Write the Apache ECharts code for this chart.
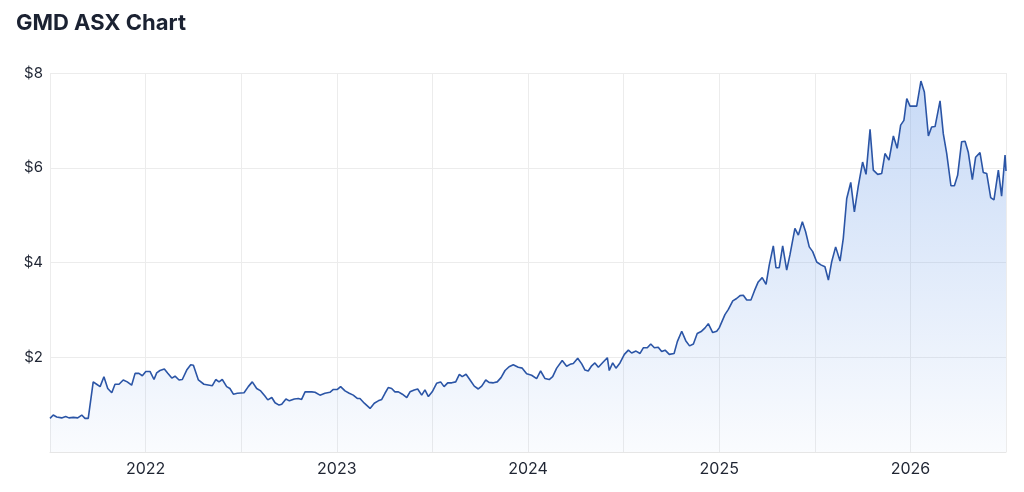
<!DOCTYPE html>
<html>
<head>
<meta charset="utf-8">
<script src="https://cdn.jsdelivr.net/npm/echarts@6/dist/echarts.min.js"></script>
<style>
html,body{margin:0;padding:0;background:#fff;}
#chart{width:1024px;height:492px;}
</style>
</head>
<body>
<div id="chart"></div>
<script>
// Decimal-year time of each weekly close
const times = [
2021.500,2021.517,2021.535,2021.561,2021.582,2021.599,2021.622,2021.645,2021.666,2021.683,
2021.700,2021.726,2021.744,2021.762,2021.782,2021.802,2021.823,2021.840,2021.861,2021.883,
2021.904,2021.927,2021.945,2021.965,2021.983,2022.001,2022.023,2022.044,2022.058,2022.075,
2022.098,2022.116,2022.137,2022.154,2022.175,2022.192,2022.215,2022.236,2022.250,2022.276,
2022.305,2022.349,2022.367,2022.384,2022.401,2022.424,2022.441,2022.459,2022.480,2022.515,
2022.537,2022.558,2022.581,2022.602,2022.624,2022.639,2022.660,2022.677,2022.698,2022.712,
2022.734,2022.752,2022.778,2022.799,2022.816,2022.834,2022.869,2022.886,2022.912,2022.938,
2022.964,2022.982,2023.003,2023.020,2023.043,2023.065,2023.086,2023.107,2023.121,2023.144,
2023.174,2023.196,2023.217,2023.235,2023.252,2023.269,2023.287,2023.304,2023.322,2023.343,
2023.366,2023.383,2023.405,2023.423,2023.444,2023.461,2023.479,2023.499,2023.522,2023.543,
2023.561,2023.580,2023.601,2023.622,2023.641,2023.656,2023.676,2023.697,2023.719,2023.740,
2023.758,2023.779,2023.796,2023.819,2023.839,2023.859,2023.880,2023.901,2023.923,2023.949,
2023.970,2023.993,2024.019,2024.045,2024.066,2024.089,2024.111,2024.129,2024.150,2024.179,
2024.202,2024.220,2024.237,2024.260,2024.281,2024.298,2024.315,2024.333,2024.350,2024.368,
2024.391,2024.415,2024.425,2024.443,2024.460,2024.481,2024.504,2024.525,2024.542,2024.565,
2024.586,2024.603,2024.624,2024.642,2024.661,2024.681,2024.699,2024.717,2024.739,2024.764,
2024.781,2024.804,2024.825,2024.845,2024.865,2024.885,2024.908,2024.926,2024.943,2024.966,
2024.987,2025.000,2025.030,2025.048,2025.071,2025.091,2025.109,2025.126,2025.144,2025.166,
2025.184,2025.204,2025.225,2025.245,2025.262,2025.283,2025.297,2025.314,2025.332,2025.353,
2025.370,2025.396,2025.414,2025.435,2025.452,2025.471,2025.489,2025.510,2025.532,2025.553,
2025.571,2025.588,2025.609,2025.632,2025.649,2025.667,2025.688,2025.707,2025.727,2025.750,
2025.768,2025.789,2025.806,2025.829,2025.850,2025.867,2025.888,2025.911,2025.931,2025.949,
2025.966,2025.981,2025.998,2026.033,2026.055,2026.073,2026.094,2026.111,2026.129,2026.155,
2026.172,2026.190,2026.212,2026.230,2026.247,2026.268,2026.286,2026.303,2026.324,2026.341,
2026.364,2026.381,2026.399,2026.420,2026.437,2026.460,2026.477,2026.495,2026.500
];
// Share price (AUD)
const prices = [
0.71,0.78,0.74,0.72,0.75,0.72,0.73,0.72,0.78,0.71,
0.71,1.48,1.43,1.38,1.59,1.34,1.25,1.43,1.43,1.52,
1.48,1.41,1.66,1.66,1.61,1.70,1.70,1.53,1.67,1.72,
1.75,1.66,1.56,1.60,1.52,1.53,1.73,1.84,1.83,1.52,
1.43,1.40,1.53,1.48,1.53,1.38,1.34,1.22,1.24,1.25,
1.38,1.48,1.34,1.29,1.18,1.10,1.15,1.04,0.99,1.01,
1.12,1.08,1.12,1.13,1.11,1.27,1.27,1.26,1.20,1.24,
1.26,1.32,1.32,1.38,1.29,1.24,1.20,1.13,1.13,1.03,
0.92,1.03,1.08,1.11,1.24,1.36,1.34,1.27,1.27,1.22,
1.15,1.27,1.31,1.33,1.20,1.31,1.17,1.27,1.45,1.48,
1.38,1.46,1.46,1.48,1.64,1.59,1.64,1.52,1.39,1.33,
1.39,1.52,1.47,1.46,1.48,1.57,1.72,1.80,1.84,1.79,
1.77,1.65,1.62,1.55,1.71,1.55,1.53,1.59,1.77,1.93,
1.81,1.85,1.87,1.98,1.86,1.73,1.71,1.82,1.88,1.79,
1.89,1.99,1.72,1.88,1.77,1.88,2.06,2.15,2.09,2.13,
2.08,2.20,2.20,2.28,2.20,2.21,2.12,2.15,2.06,2.08,
2.33,2.55,2.35,2.24,2.28,2.50,2.55,2.62,2.71,2.52,
2.55,2.62,2.90,3.01,3.19,3.24,3.30,3.31,3.21,3.21,
3.40,3.59,3.68,3.54,3.95,4.35,3.89,3.89,4.35,3.84,
4.16,4.72,4.58,4.86,4.65,4.33,4.23,4.01,3.95,3.91,
3.63,4.01,4.33,4.03,4.51,5.35,5.69,5.07,5.60,6.12,
5.86,6.81,5.95,5.86,5.88,6.30,6.16,6.67,6.41,6.90,
7.00,7.46,7.30,7.30,7.83,7.60,6.67,6.86,6.87,7.41,
6.72,6.30,5.62,5.62,5.84,6.55,6.56,6.32,5.75,6.22,
6.32,5.90,5.88,5.37,5.32,5.95,5.40,6.27,5.93
];
const yearTicks = [2022, 2023, 2024, 2025, 2026];
const priceTicks = [2, 4, 6, 8];

const seriesData = times.map((t, i) => [t, prices[Math.min(i, prices.length - 1)]]);

const chart = echarts.init(document.getElementById('chart'), null, {renderer: 'canvas'});
chart.setOption({
  animation: false,
  backgroundColor: '#ffffff',
  title: {
    text: 'GMD ASX Chart',
    left: 11, top: 7,
    textStyle: {fontFamily: 'Inter, "Noto Sans", sans-serif', fontWeight: 'bold', fontSize: 22, color: '#1b2232'}
  },
  grid: {left: 50, right: 18, top: 73, bottom: 40},
  xAxis: {
    type: 'value', min: 2021.5, max: 2026.5, interval: 0.5,
    axisLine: {show: true, lineStyle: {color: '#e6e6e6'}},
    axisTick: {show: false},
    splitLine: {show: true, lineStyle: {color: '#ececec', width: 1}},
    axisLabel: {
      margin: 9, fontSize: 16, color: '#1f2533', fontFamily: 'Inter, "Noto Sans", sans-serif',
      formatter: v => yearTicks.includes(Math.round(v * 100) / 100) ? String(v) : ''
    }
  },
  yAxis: {
    type: 'value', min: 0, max: 8, interval: 2,
    axisLine: {show: false}, axisTick: {show: false},
    splitLine: {lineStyle: {color: '#ececec', width: 1}},
    axisLabel: {
      margin: 7, fontSize: 15, color: '#1f2533', fontFamily: 'Inter, "Noto Sans", sans-serif',
      formatter: v => priceTicks.includes(v) ? '$' + v : ''
    }
  },
  series: [{
    type: 'line',
    data: seriesData,
    showSymbol: false,
    symbol: 'none',
    lineStyle: {color: '#2b55a6', width: 1.6},
    areaStyle: {
      color: new echarts.graphic.LinearGradient(0, 0, 0, 1, [
        {offset: 0, color: 'rgba(110,158,232,0.55)'},
        {offset: 1, color: 'rgba(110,158,232,0.05)'}
      ])
    }
  }]
});
</script>
</body>
</html>
